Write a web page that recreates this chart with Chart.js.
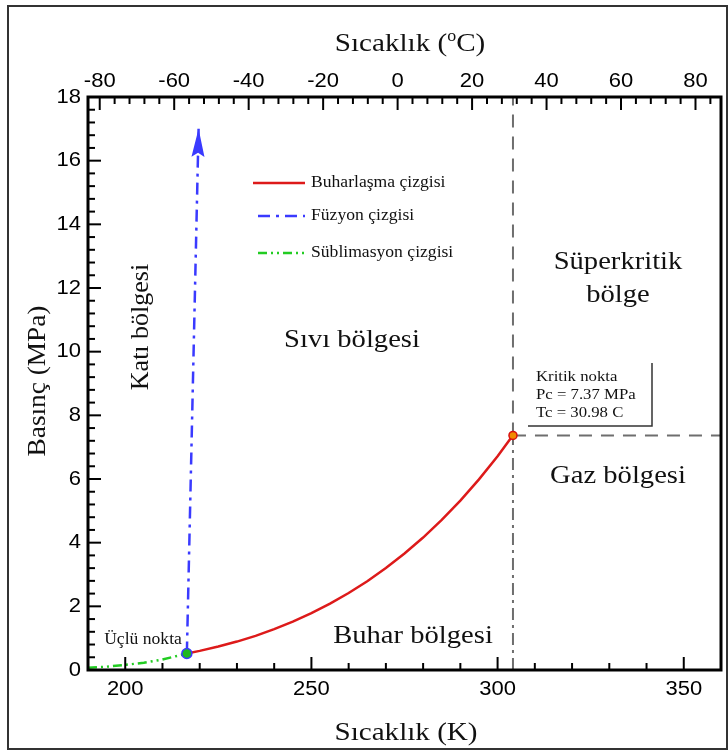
<!DOCTYPE html>
<html><head><meta charset="utf-8">
<script src="https://cdn.jsdelivr.net/npm/chart.js@4/dist/chart.umd.min.js"></script>
<style>
html,body{margin:0;padding:0;background:#fff;}
#wrap{position:relative;width:728px;height:755px;overflow:hidden}
#frame{position:absolute;left:7px;top:5px;width:721px;height:745px;border:2px solid #333;box-sizing:border-box;pointer-events:none}
canvas{position:absolute;left:0;top:0}
</style></head><body>
<div id="wrap"><canvas id="c" width="728" height="755"></canvas><div id="frame"></div></div>
<script>
// ---- data ----
const vapT = [216.55, 220, 225, 230, 235, 240, 245, 250, 255, 260, 265, 270, 275, 280, 285, 290, 295, 300, 304.13];
const vapP = [0.518, 0.600, 0.736, 0.893, 1.073, 1.283, 1.517, 1.785, 2.085, 2.419, 2.790, 3.203, 3.661, 4.161, 4.714, 5.320, 5.988, 6.713, 7.377];
const fusT = [216.55, 219.7];
const fusP = [0.518, 17.0];
const subT = [190, 195, 200, 205, 210, 216.55];
const subP = [0.07, 0.105, 0.16, 0.23, 0.33, 0.518];
const tripleT = [216.55], tripleP = [0.518];
const critT = [304.13], critP = [7.37];
const kTicks = [200, 250, 300, 350];
const cTicks = [-80, -60, -40, -20, 0, 20, 40, 60, 80];
const pTicks = [0, 2, 4, 6, 8, 10, 12, 14, 16, 18];
const legendLabels = ['Buharlaşma çizgisi', 'Füzyon çizgisi', 'Süblimasyon çizgisi'];

const pts = (xs, ys) => xs.map((x, i) => ({x, y: ys[i]}));
const SERIF = 'Liberation Serif';
const SANS = 'Liberation Sans';

const dsVap = {label: legendLabels[0], data: pts(vapT, vapP), borderColor: '#dd1a1a', borderWidth: 2.5, pointRadius: 0, order: 3};
const dsFus = {label: legendLabels[1], data: pts(fusT, fusP), borderColor: '#3a3aff', borderWidth: 2.5, borderDash: [12, 6, 3, 6], pointRadius: 0, order: 4};
const dsSub = {label: legendLabels[2], data: pts(subT, subP), borderColor: '#22cc22', borderWidth: 2.5, borderDash: [9, 4, 2, 4, 2, 4], pointRadius: 0, order: 5};
const dsVLow = {data: [{x: critT[0], y: 0}, {x: critT[0], y: critP[0]}], borderColor: '#6e6e6e', borderWidth: 2, borderDash: [12, 5, 3, 5], pointRadius: 0, order: 9};
const dsVUp = {data: [{x: critT[0], y: critP[0]}, {x: critT[0], y: 18}], borderColor: '#6e6e6e', borderWidth: 2, borderDash: [13, 9], pointRadius: 0, order: 9};
const dsH = {data: [{x: critT[0], y: critP[0]}, {x: 360, y: critP[0]}], borderColor: '#6e6e6e', borderWidth: 2, borderDash: [13, 9], pointRadius: 0, order: 9};
const dsTriple = {data: pts(tripleT, tripleP), showLine: false, pointRadius: 5, pointBackgroundColor: '#1fb81f', pointBorderColor: '#3a3aff', pointBorderWidth: 1.5, order: 1};
const dsCrit = {data: pts(critT, critP), showLine: false, pointRadius: 4, pointBackgroundColor: '#f08a00', pointBorderColor: '#d81010', pointBorderWidth: 1.5, order: 1};

function minorTicks(from, to, step) { const a = []; for (let v = from; v <= to + 1e-9; v += step) a.push(+v.toFixed(4)); return a; }

const decor = {
  id: 'decor',
  afterDatasetsDraw(chart) {
    const ctx = chart.ctx, ca = chart.chartArea;
    const sx = chart.scales.x, sy = chart.scales.y, sx2 = chart.scales.x2;
    ctx.save();
    // arrow head at the end of the fusion line
    const fm = chart.getDatasetMeta(1).data;
    const tip = fm[fm.length - 1], prev = fm[fm.length - 2];
    const ang = Math.atan2(tip.y - prev.y, tip.x - prev.x);
    ctx.translate(tip.x, tip.y); ctx.rotate(ang);
    ctx.beginPath(); ctx.moveTo(0, 0); ctx.lineTo(-28, -6.5); ctx.lineTo(-24, 0); ctx.lineTo(-28, 6.5); ctx.closePath();
    ctx.fillStyle = '#3a3aff'; ctx.fill();
    ctx.restore();

    ctx.save();
    // plot frame
    ctx.strokeStyle = '#000'; ctx.lineWidth = 3;
    ctx.strokeRect(ca.left, ca.top, ca.right - ca.left, ca.bottom - ca.top);
    // inward ticks
    ctx.lineWidth = 2;
    const tick = (x1, y1, x2, y2) => { ctx.beginPath(); ctx.moveTo(x1, y1); ctx.lineTo(x2, y2); ctx.stroke(); };
    minorTicks(200, 350, 10).forEach(v => { const x = sx.getPixelForValue(v); const L = kTicks.includes(v) ? 13 : 7; tick(x, ca.bottom, x, ca.bottom - L); });
    minorTicks(-80, 84, 4).forEach(v => { const x = sx2.getPixelForValue(v); const L = (Math.abs(v % 20) < 1e-6) ? 13 : 7; tick(x, ca.top, x, ca.top + L); });
    minorTicks(0.4, 17.6, 0.4).forEach(v => { const y = sy.getPixelForValue(v); const L = (Math.abs(v / 2 - Math.round(v / 2)) < 1e-6) ? 13 : 7; tick(ca.left, y, ca.left + L, y); });

    const T = (s, x, y, size, opts = {}) => {
      ctx.save();
      ctx.font = (opts.weight || '') + ' ' + size + 'px "' + (opts.family || SERIF) + '"';
      ctx.fillStyle = opts.color || '#111';
      ctx.textAlign = opts.align || 'center';
      ctx.textBaseline = 'middle';
      ctx.translate(x, y);
      if (opts.rot) ctx.rotate(opts.rot);
      ctx.scale(opts.st || 1, 1);
      ctx.fillText(s, 0, 0);
      ctx.restore();
    };
    // tick labels (drawn at scale positions)
    kTicks.forEach(v => T(String(v), sx.getPixelForValue(v), ca.bottom + 19, 20, {family: SANS, st: 1.1, color: '#000'}));
    cTicks.forEach(v => T(String(v), sx2.getPixelForValue(v), ca.top - 16, 20, {family: SANS, st: 1.1, color: '#000'}));
    pTicks.forEach(v => T(String(v), ca.left - 7, sy.getPixelForValue(v), 20, {family: SANS, st: 1.1, color: '#000', align: 'right'}));

    // top title with superscript
    const st = 1.12;
    ctx.font = '26px "' + SERIF + '"';
    const a = 'Sıcaklık (', c = 'C)';
    const wa = ctx.measureText(a).width * st, wc = ctx.measureText(c).width * st;
    ctx.font = '16px "' + SERIF + '"';
    const wo = ctx.measureText('o').width * st;
    const total = wa + wo + wc; let x0 = 410 - total / 2;
    T(a, x0, 44, 26, {align: 'left', st});
    T('o', x0 + wa, 37, 16, {align: 'left', st});
    T(c, x0 + wa + wo, 44, 26, {align: 'left', st});
    // axis titles
    T('Sıcaklık (K)', 406, 733, 26, {st});
    T('Basınç (MPa)', 38, 381, 26, {rot: -Math.PI / 2, st: 1.05});
    // region labels
    T('Katı bölgesi', 141, 327, 26, {rot: -Math.PI / 2, st: 1.0});
    T('Sıvı bölgesi', 352, 340, 26, {st: 1.1});
    T('Süperkritik', 618, 262, 26, {st: 1.1});
    T('bölge', 618, 295, 26, {st: 1.1});
    T('Gaz bölgesi', 618, 476, 26, {st: 1.1});
    T('Buhar bölgesi', 413, 636, 26, {st: 1.1});
    T('Üçlü nokta', 143, 640, 16, {st: 1.1});
    // critical point box
    T('Kritik nokta', 536, 377, 15.5, {align: 'left', st: 1.08});
    T('Pc = 7.37 MPa', 536, 395, 15.5, {align: 'left', st: 1.08});
    T('Tc = 30.98 C', 536, 413, 15.5, {align: 'left', st: 1.08});
    ctx.strokeStyle = '#333'; ctx.lineWidth = 1.5; ctx.setLineDash([]);
    ctx.beginPath(); ctx.moveTo(652, 363); ctx.lineTo(652, 426); ctx.lineTo(528, 426); ctx.stroke();
    // legend
    const legY = [183, 216, 253];
    const legDs = [dsVap, dsFus, dsSub];
    legDs.forEach((d, i) => {
      ctx.save();
      ctx.strokeStyle = d.borderColor; ctx.lineWidth = 2.5;
      ctx.setLineDash(d.borderDash || []);
      ctx.beginPath(); ctx.moveTo(i === 0 ? 253 : 258, legY[i]); ctx.lineTo(305, legY[i]); ctx.stroke();
      ctx.restore();
      T(d.label, 311, legY[i], 16, {align: 'left', st: 1.1});
    });
    ctx.restore();
  }
};

const hidden = {display: false};
new Chart(document.getElementById('c'), {
  type: 'line',
  data: {datasets: [dsCrit, dsFus, dsTriple, dsVap, dsSub, dsVLow, dsVUp, dsH]},
  options: {
    responsive: false, animation: false,
    layout: {padding: {left: 0, right: 7, top: 0, bottom: 0}},
    plugins: {legend: {display: false}, tooltip: {enabled: false}},
    scales: {
      x: {type: 'linear', position: 'bottom', min: 190, max: 360,
          afterBuildTicks: s => { s.ticks = kTicks.map(v => ({value: v})); },
          afterFit: s => { s.height = 85; },
          grid: {display: false, drawTicks: false}, border: {display: false}, ticks: hidden},
      x2: {type: 'linear', position: 'top', min: 190 - 273.15, max: 360 - 273.15,
          afterBuildTicks: s => { s.ticks = cTicks.map(v => ({value: v})); },
          afterFit: s => { s.height = 97; },
          grid: {display: false, drawTicks: false}, border: {display: false}, ticks: hidden},
      y: {type: 'linear', position: 'left', min: 0, max: 18,
          afterBuildTicks: s => { s.ticks = pTicks.map(v => ({value: v})); },
          afterFit: s => { s.width = 88; },
          grid: {display: false, drawTicks: false}, border: {display: false}, ticks: hidden}
    }
  },
  plugins: [decor]
});
</script>
</body></html>
